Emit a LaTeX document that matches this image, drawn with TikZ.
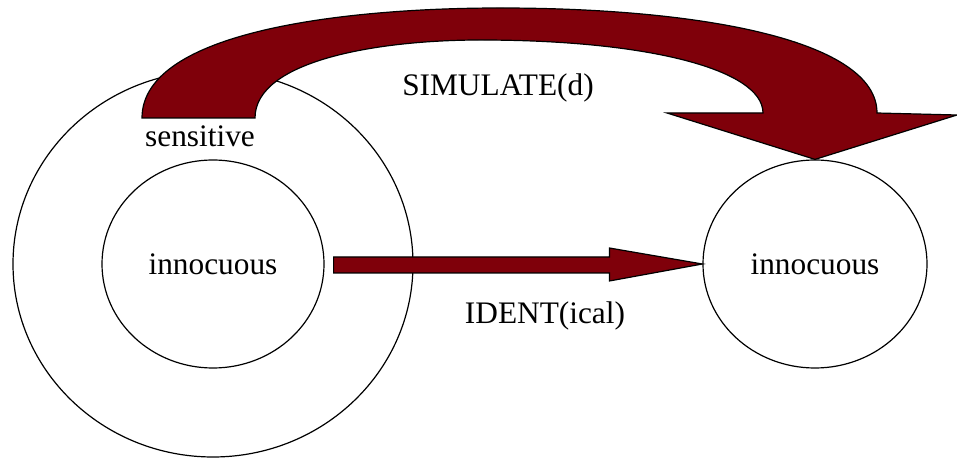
\documentclass[tikz,border=0pt]{standalone}
\usepackage{fontspec}
\setmainfont{Liberation Serif}
\usetikzlibrary{shapes.geometric,calc}
\definecolor{darkred}{RGB}{127,0,10}
\begin{document}
\begin{tikzpicture}[x=0.75pt,y=-0.75pt,
  ring/.style={draw, ellipse, line width=0.9pt, inner sep=0pt},
  blockarrow/.style={draw, line width=0.9pt, fill=darkred, line join=miter},
  lbl/.style={font=\fontsize{23.5}{28}\selectfont}]
\useasboundingbox (0,0) rectangle (957,459);
\node[ring, minimum width=300pt, minimum height=289.5pt] (outer) at (213,264) {};
\node[ring, lbl, minimum width=166.5pt, minimum height=156pt] (inL) at (213,264) {innocuous};
\node[ring, lbl, minimum width=168pt, minimum height=156pt] (inR) at (815,264) {innocuous};
\node[lbl, anchor=base] (sens) at (200,147) {sensitive};
\node[lbl, anchor=base] (sim) at (498,96) {SIMULATE(d)};
\node[lbl, anchor=base] (ident) at (545,324) {IDENT(ical)};
\coordinate (tailL) at (142,118);
\coordinate (tailR) at (255,118);

% SIMULATE(d)
\path[blockarrow] (tailL) .. controls (142,30) and (350,8) .. (500,8)
  .. controls (700,8) and (877,40) .. (877,113) -- (957,115) -- (inR.north)
  -- (667,113) -- (763,113) .. controls (763,70) and (650,40) .. (480,40)
  .. controls (380,40) and (255,60) .. (tailR) -- cycle;

% IDENT(ical)
\path[blockarrow] ($(inL.east)+(9,-7)$) -- ($(inR.west)+(-93,-7)$)
  -- ($(inR.west)+(-93,-16)$) -- (inR.west) -- ($(inR.west)+(-93,17)$)
  -- ($(inR.west)+(-93,9)$) -- ($(inL.east)+(9,9)$) -- cycle;
\end{tikzpicture}
\end{document}
